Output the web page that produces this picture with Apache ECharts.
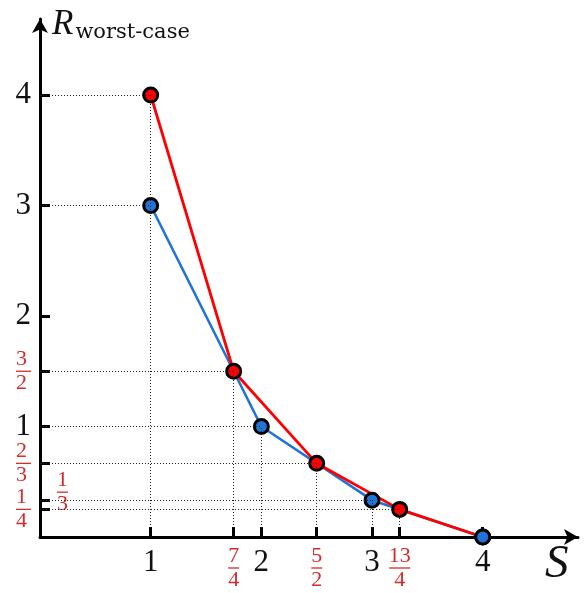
<!DOCTYPE html>
<html>
<head>
<meta charset="utf-8">
<script src="https://cdn.jsdelivr.net/npm/echarts@6/dist/echarts.min.js"></script>
<style>
  html, body { margin: 0; padding: 0; background: #fff; }
  #chart { width: 586px; height: 593px; }
</style>
</head>
<body>
<div id="chart"></div>
<script>
// values
const blueS = [1, 2, 3, 4];
const blueR = [3, 1, 1/3, 0];
const redS = [1, 7/4, 5/2, 13/4, 4];
const redR = [4, 3/2, 2/3, 1/4, 0];

const xTicks = [1, 7/4, 2, 5/2, 3, 13/4, 4];
const xTickText = ['1', '7/4', '2', '5/2', '3', '13/4', '4'];
const yTicks = [1/4, 1/3, 2/3, 1, 3/2, 2, 3, 4];
const yLabelVals = [1/4, 2/3, 1, 3/2, 2, 3, 4];
const yLabelText = ['1/4', '2/3', '1', '3/2', '2', '3', '4'];
const yExtraVals = [1/3];
const yExtraText = ['1/3'];

const RED = '#f00';
const BLUE = '#1f74d6';
const LABEL_RED = '#d62b2b';
const SERIF = '"Liberation Serif", "DejaVu Serif", serif';

function makeRich(padRight) {
    const rich = {
        i: { fontFamily: SERIF, fontSize: 31, lineHeight: 32, color: '#111' }
    };
    [1, 2].forEach(w => {
        const width = 10 * w + 1;
        rich['n' + w] = { fontFamily: SERIF, fontSize: 22, lineHeight: 18, color: LABEL_RED, width: width, align: 'center', padding: [0, padRight, 0, 0] };
        rich['b' + w] = { width: width, height: 1.3, lineHeight: 6, backgroundColor: LABEL_RED, align: 'center', padding: [0, padRight, 0, 0] };
        rich['d' + w] = { fontFamily: SERIF, fontSize: 22, lineHeight: 18, color: LABEL_RED, width: width, align: 'center', padding: [0, padRight, 0, 0] };
    });
    return rich;
}

function tickLabel(values, texts) {
    return function (v) {
        const i = values.findIndex(t => Math.abs(t - v) < 1e-6);
        if (i < 0) return '';
        const s = texts[i];
        if (s.indexOf('/') < 0) return '{i|' + s + '}';
        const parts = s.split('/');
        const w = Math.max(parts[0].length, parts[1].length);
        return '{n' + w + '|' + parts[0] + '}\n{b' + w + '|}\n{d' + w + '|' + parts[1] + '}';
    };
}

// dotted guides from each point down to the S axis and across to the R axis
const guidePts = [];
redS.forEach((s, i) => { if (redR[i] > 0) guidePts.push([s, redR[i]]); });
blueS.forEach((s, i) => { if (blueR[i] > 0) guidePts.push([s, blueR[i]]); });
const guides = [];
guidePts.forEach(p => {
    guides.push([{ coord: [0, p[1]] }, { coord: [p[0], p[1]] }]);
    guides.push([{ coord: [p[0], 0] }, { coord: [p[0], p[1]] }]);
});

const chart = echarts.init(document.getElementById('chart'));

const axisLine = {
    show: true,
    symbol: ['none', 'arrow'],
    symbolSize: [12, 14],
    lineStyle: { color: '#000', width: 3 }
};

chart.setOption({
    animation: false,
    grid: { left: 40, right: 8, top: 19, bottom: 56, containLabel: false },
    xAxis: {
        type: 'value',
        min: 0,
        max: 4.861,
        name: 'S',
        nameLocation: 'end',
        nameGap: -33,
        nameTextStyle: {
            fontFamily: SERIF, fontStyle: 'italic', fontSize: 47, color: '#111',
            align: 'left', verticalAlign: 'top', lineHeight: 46, padding: [5, 0, 0, 0]
        },
        axisLine: axisLine,
        axisTick: { show: true, inside: true, length: 10, lineStyle: { color: '#000', width: 3 }, customValues: xTicks },
        axisLabel: {
            margin: 10, showMinLabel: true, showMaxLabel: true, hideOverlap: false,
            customValues: xTicks, formatter: tickLabel(xTicks, xTickText), rich: makeRich(0)
        },
        splitLine: { show: false }
    },
    yAxis: [{
        type: 'value',
        min: 0,
        max: 4.688,
        name: '{r|R}{s|worst-case}',
        nameLocation: 'end',
        nameGap: -24,
        nameTextStyle: {
            align: 'left', verticalAlign: 'bottom', padding: [0, 0, 0, 12],
            rich: {
                r: { fontFamily: SERIF, fontStyle: 'italic', fontSize: 35, color: '#111', lineHeight: 36 },
                s: { fontFamily: '"DejaVu Serif", serif', fontSize: 21, color: '#111', lineHeight: 36, verticalAlign: 'bottom', padding: [11, 0, 0, 2] }
            }
        },
        axisLine: axisLine,
        axisTick: { show: true, inside: true, length: 10, lineStyle: { color: '#000', width: 3 }, customValues: yTicks },
        axisLabel: {
            margin: 9, showMinLabel: true, showMaxLabel: true, hideOverlap: false,
            customValues: yLabelVals, formatter: tickLabel(yLabelVals, yLabelText), rich: makeRich(4)
        },
        splitLine: { show: false }
    }, {
        type: 'value',
        min: 0,
        max: 4.688,
        position: 'left',
        axisLine: { show: false },
        axisTick: { show: false },
        axisLabel: {
            inside: true, margin: 17, padding: [0, 0, 16, 0], showMinLabel: true,
            customValues: yExtraVals, formatter: tickLabel(yExtraVals, yExtraText), rich: makeRich(0)
        },
        splitLine: { show: false }
    }],
    series: [{
        type: 'line',
        z: 2,
        data: blueS.map((s, i) => [s, blueR[i]]),
        showSymbol: false,
        symbol: 'none',
        lineStyle: { color: BLUE, width: 2.6 },
        markLine: {
            silent: true,
            symbol: 'none',
            label: { show: false },
            lineStyle: { color: '#222', width: 1, type: [1, 2] },
            data: guides
        }
    }, {
        type: 'line',
        z: 3,
        data: redS.map((s, i) => [s, redR[i]]),
        symbol: 'circle',
        symbolSize: 14,
        itemStyle: { color: RED, borderColor: '#000', borderWidth: 3 },
        lineStyle: { color: RED, width: 2.8 }
    }, {
        type: 'scatter',
        z: 4,
        data: blueS.map((s, i) => [s, blueR[i]]),
        symbol: 'circle',
        symbolSize: 14,
        itemStyle: { color: BLUE, borderColor: '#000', borderWidth: 3, opacity: 1 }
    }]
});
</script>
</body>
</html>
